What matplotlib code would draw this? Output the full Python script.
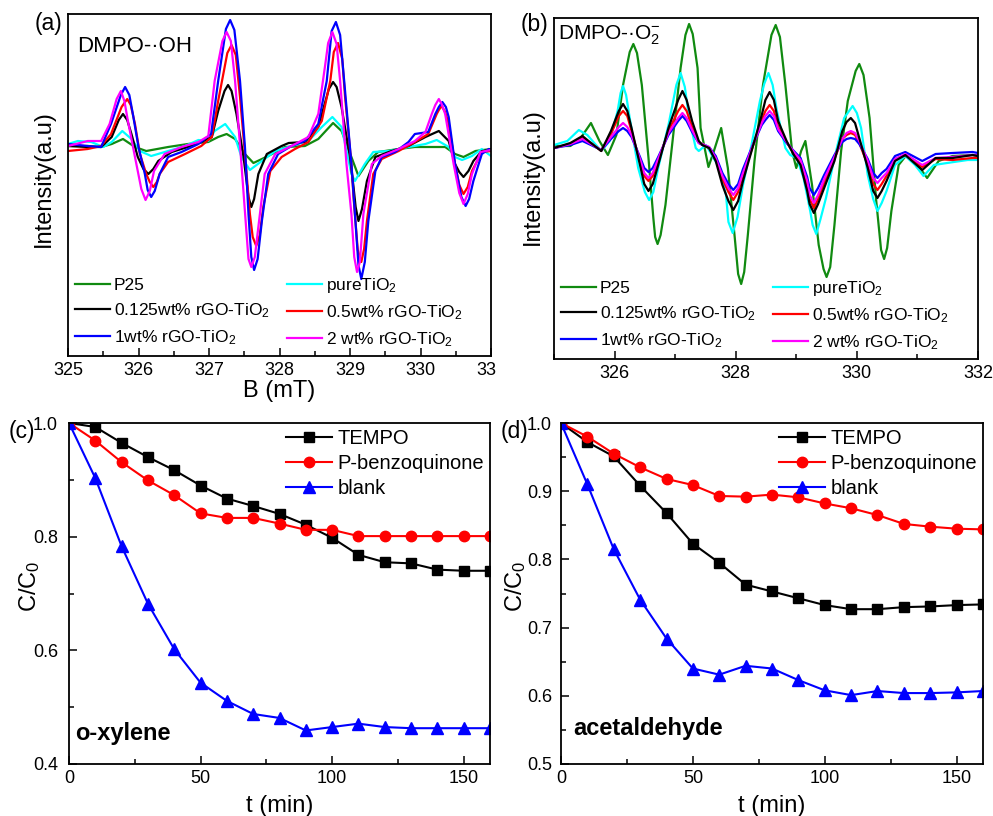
import matplotlib
matplotlib.use('Agg')
import matplotlib.pyplot as plt
from matplotlib.ticker import MultipleLocator, FormatStrFormatter
from matplotlib.transforms import Bbox, TransformedBbox

plt.rcParams['font.family'] = ['Liberation Sans', 'DejaVu Sans']
plt.rcParams['mathtext.fontset'] = 'custom'
plt.rcParams['mathtext.rm'] = 'Liberation Sans'
plt.rcParams['mathtext.it'] = 'Liberation Sans:italic'
plt.rcParams['mathtext.bf'] = 'Liberation Sans:bold'

# ---------------- (a) DMPO-.OH spectra (B in mT, intensity in a.u.) ----------------
a_p25_x = [325.00, 325.28, 325.47, 325.62, 325.78, 325.95, 326.11, 326.42, 326.70, 326.99,
           327.13, 327.25, 327.37, 327.51, 327.63, 327.84, 328.08, 328.36, 328.55, 328.76,
           328.88, 329.02, 329.12, 329.26, 329.40, 329.69, 329.92, 330.21, 330.35, 330.49,
           330.61, 330.78, 331.00]
a_p25_y = [1, 1, 0, 3, 8, 0, -4, 0, 3, 5,
           10, 13, 8, -7, -16, -9, 0, 1, 8, 24,
           16, -10, -29, -14, -5, -2, 0, 0, 0, -7,
           -10, -4, -2]

a_pure_x = [325.00, 325.14, 325.33, 325.50, 325.62, 325.77, 325.90, 326.02, 326.18, 326.42,
            326.66, 326.85, 326.99, 327.08, 327.23, 327.37, 327.46, 327.58, 327.75, 327.94,
            328.17, 328.41, 328.60, 328.75, 328.88, 329.02, 329.07, 329.21, 329.33, 329.55,
            329.83, 330.07, 330.23, 330.40, 330.49, 330.59, 330.73, 330.87, 331.00]
a_pure_y = [3, 6, 5, 0, 5, 16, 8, -4, -9, -4,
            1, 7, 6, 16, 23, 10, -10, -23, -14, -4,
            1, 6, 20, 30, 20, -27, -34, -17, -5, -4,
            0, 3, 7, 0, -10, -13, -9, -2, -9]

a_w0125_x = [325.00, 325.28, 325.47, 325.62, 325.72, 325.78, 325.84, 325.90, 325.99, 326.07,
             326.14, 326.21, 326.28, 326.47, 326.70, 326.89, 327.04, 327.13, 327.22, 327.27,
             327.32, 327.39, 327.49, 327.56, 327.60, 327.64, 327.70, 327.82, 328.03, 328.13,
             328.36, 328.55, 328.70, 328.76, 328.81, 328.88, 329.00, 329.05, 329.08, 329.12,
             329.17, 329.24, 329.36, 329.59, 329.83, 330.07, 330.26, 330.40, 330.49, 330.55,
             330.61, 330.68, 330.75, 330.87, 331.00]
a_w0125_y = [1, 0, 0, 10, 27, 33, 27, 13, -10, -22,
             -27, -22, -14, -5, 0, 5, 10, 36, 56, 62,
             56, 33, -10, -50, -60, -52, -27, -7, 1, 4,
             5, 20, 58, 65, 60, 40, -10, -40, -60, -74,
             -62, -34, -10, -4, 1, 10, 16, 6, -17, -25,
             -30, -24, -14, -4, -3]

a_w05_x = [325.00, 325.28, 325.47, 325.61, 325.76, 325.84, 325.89, 325.95, 326.02, 326.11,
           326.16, 326.21, 326.26, 326.30, 326.42, 326.66, 326.89, 327.04, 327.13, 327.26,
           327.32, 327.38, 327.44, 327.51, 327.58, 327.62, 327.67, 327.72, 327.77, 327.87,
           328.03, 328.22, 328.41, 328.60, 328.72, 328.77, 328.83, 328.89, 328.93, 329.02,
           329.05, 329.11, 329.16, 329.20, 329.24, 329.33, 329.45, 329.69, 329.92, 330.11,
           330.23, 330.26, 330.30, 330.35, 330.40, 330.49, 330.55, 330.61, 330.67, 330.73,
           330.87, 331.00]
a_w05_y = [-4, -2, 1, 13, 40, 48, 42, 23, -7, -27,
           -35, -40, -35, -27, -15, -7, 1, 10, 46, 94,
           102, 92, 50, -7, -67, -90, -99, -88, -60, -24,
           -10, -2, 5, 26, 66, 95, 104, 88, 50, -17,
           -50, -103, -115, -102, -74, -27, -12, -4, 5, 13,
           33, 37, 41, 35, 23, -17, -38, -47, -40, -24,
           -5, -4]

a_w1_x = [325.00, 325.28, 325.47, 325.61, 325.75, 325.81, 325.87, 325.92, 326.00, 326.09,
          326.13, 326.18, 326.23, 326.30, 326.42, 326.61, 326.85, 327.03, 327.13, 327.24,
          327.30, 327.36, 327.44, 327.51, 327.56, 327.60, 327.64, 327.69, 327.75, 327.84,
          327.98, 328.17, 328.36, 328.55, 328.67, 328.74, 328.80, 328.86, 328.93, 329.02,
          329.07, 329.12, 329.16, 329.21, 329.26, 329.36, 329.45, 329.64, 329.83, 329.92,
          330.11, 330.21, 330.26, 330.31, 330.36, 330.40, 330.49, 330.58, 330.64, 330.69,
          330.75, 330.87, 330.97, 331.00]
a_w1_y = [3, 1, 0, 23, 52, 60, 52, 33, 0, -27,
          -43, -50, -44, -27, -10, -5, 3, 13, 66, 118,
          127, 117, 66, 0, -67, -110, -123, -112, -74, -27,
          -7, 1, 6, 23, 66, 116, 125, 112, 56, -17,
          -67, -118, -132, -115, -74, -24, -10, -5, 5, 13,
          15, 33, 40, 45, 40, 30, -17, -50, -59, -52,
          -34, -7, -2, -3]

a_w2_x = [325.00, 325.28, 325.47, 325.59, 325.69, 325.75, 325.80, 325.85, 325.95, 326.04,
          326.10, 326.16, 326.22, 326.37, 326.61, 326.85, 326.99, 327.08, 327.19, 327.25,
          327.31, 327.37, 327.46, 327.53, 327.56, 327.60, 327.65, 327.70, 327.79, 327.94,
          328.17, 328.41, 328.55, 328.65, 328.69, 328.75, 328.81, 328.86, 328.95, 329.02,
          329.06, 329.10, 329.14, 329.19, 329.31, 329.45, 329.69, 329.92, 330.07, 330.16,
          330.21, 330.26, 330.30, 330.35, 330.47, 330.55, 330.61, 330.67, 330.73, 330.85,
          331.00]
a_w2_y = [1, 6, 6, 23, 48, 56, 46, 26, -10, -42,
          -53, -44, -24, -7, 0, 5, 11, 66, 106, 115,
          106, 66, -17, -84, -112, -120, -110, -80, -27, -7,
          1, 10, 33, 83, 104, 115, 103, 66, -17, -67,
          -110, -125, -115, -67, -17, -9, -2, 6, 15, 33,
          42, 48, 43, 33, -17, -46, -57, -47, -27, -5,
          -3]

# ---------------- (b) DMPO-.O2- spectra ----------------
b_p25_x = [325.00, 325.27, 325.44, 325.61, 325.75, 325.89, 326.03, 326.14, 326.25, 326.31,
           326.37, 326.45, 326.56, 326.64, 326.67, 326.71, 326.76, 326.84, 326.95, 327.09,
           327.17, 327.23, 327.29, 327.37, 327.42, 327.55, 327.64, 327.76, 327.87, 327.98,
           328.04, 328.09, 328.14, 328.20, 328.31, 328.45, 328.59, 328.66, 328.73, 328.82,
           328.93, 329.00, 329.08, 329.15, 329.26, 329.37, 329.45, 329.50, 329.56, 329.63,
           329.74, 329.85, 329.98, 330.04, 330.11, 330.21, 330.32, 330.40, 330.45, 330.50,
           330.57, 330.69, 330.82, 330.96, 331.16, 331.35, 331.58, 331.91, 332.00]
b_p25_y = [1, 1, 9, 24, 6, -8, 12, 62, 95, 103,
           94, 62, -11, -71, -90, -97, -88, -58, 2, 79,
           112, 123, 113, 79, 19, -20, -4, 19, -21, -88,
           -127, -137, -125, -88, -14, 62, 112, 122, 110, 62,
           -4, -21, -4, 6, -38, -98, -122, -130, -120, -78,
           -4, 46, 76, 83, 72, 29, -54, -103, -112, -101,
           -64, -18, -8, -14, -31, -14, -9, -8, -9]

b_pure_x = [325.00, 325.22, 325.41, 325.55, 325.78, 325.92, 326.05, 326.10, 326.14, 326.19,
            326.25, 326.39, 326.50, 326.57, 326.64, 326.72, 326.89, 327.02, 327.09, 327.16,
            327.23, 327.34, 327.39, 327.51, 327.73, 327.84, 327.88, 327.95, 328.03, 328.12,
            328.26, 328.40, 328.47, 328.54, 328.61, 328.68, 328.82, 328.90, 329.01, 329.12,
            329.23, 329.27, 329.33, 329.40, 329.49, 329.63, 329.79, 329.86, 329.93, 330.00,
            330.07, 330.18, 330.27, 330.34, 330.41, 330.49, 330.63, 330.80, 330.96, 331.10,
            331.27, 331.49, 331.83, 332.00]
b_pure_y = [2, 6, 17, 12, -4, 6, 36, 54, 61, 52,
            29, -21, -45, -53, -45, -21, 22, 62, 74, 60,
            29, -1, -4, 2, -21, -48, -75, -86, -70, -38,
            2, 46, 63, 74, 62, 36, -1, -8, -11, -31,
            -64, -78, -87, -72, -51, -11, 29, 35, 41, 34,
            19, -28, -52, -64, -56, -44, -18, -9, -18, -29,
            -18, -16, -13, -13]

b_rgo_x = [325.00, 325.27, 325.47, 325.61, 325.78, 325.94, 326.07, 326.14, 326.21, 326.28,
           326.42, 326.49, 326.56, 326.63, 326.72, 326.89, 327.05, 327.12, 327.19, 327.28,
           327.39, 327.45, 327.56, 327.67, 327.78, 327.88, 327.96, 328.04, 328.12, 328.29,
           328.43, 328.49, 328.56, 328.63, 328.70, 328.84, 328.96, 329.07, 329.18, 329.22,
           329.29, 329.36, 329.46, 329.63, 329.76, 329.83, 329.90, 329.97, 330.04, 330.18,
           330.27, 330.34, 330.41, 330.49, 330.63, 330.80, 331.08, 331.30, 331.58, 331.91,
           332.00]
b_w0125_y = [-1, 4, 11, 4, -4, 16, 36, 43, 36, 19,
             -18, -37, -44, -37, -18, 19, 47, 56, 47, 26,
             6, 2, -1, -14, -38, -54, -63, -54, -34, 2,
             32, 47, 55, 47, 26, 6, -8, -18, -44, -57,
             -66, -57, -41, -14, 16, 25, 29, 24, 9, -21,
             -44, -51, -44, -34, -14, -8, -23, -11, -11, -8,
             -9]
b_w05_y = [-1, 3, 9, 4, -4, 13, 31, 36, 31, 16,
           -15, -29, -34, -29, -14, 16, 36, 42, 36, 20,
           5, 2, -1, -12, -32, -45, -53, -45, -28, 2,
           27, 36, 42, 36, 20, 5, -7, -16, -38, -52,
           -61, -52, -36, -12, 8, 12, 14, 12, 4, -18,
           -37, -43, -37, -29, -12, -8, -20, -12, -13, -11,
           -11]
b_w1_y = [-1, 2, 6, 2, -3, 8, 16, 19, 16, 10,
          -10, -21, -25, -21, -10, 12, 26, 31, 26, 15,
          4, 2, 0, -9, -26, -37, -43, -37, -22, 3,
          22, 27, 32, 27, 16, 4, -4, -11, -30, -41,
          -48, -41, -28, -8, 5, 8, 9, 8, 3, -12,
          -26, -31, -26, -22, -9, -5, -14, -7, -6, -5,
          -6]
b_w2_y = [-1, 3, 8, 3, -3, 10, 20, 24, 20, 12,
          -12, -26, -31, -26, -12, 14, 29, 34, 29, 17,
          4, 3, 0, -11, -29, -41, -48, -41, -26, 3,
          24, 31, 36, 31, 18, 5, -5, -13, -34, -48,
          -56, -48, -32, -10, 8, 14, 16, 14, 6, -14,
          -31, -36, -31, -26, -12, -7, -18, -11, -10, -8,
          -8]

# ---------------- (c) o-xylene, (d) acetaldehyde ----------------
t_min = [0, 10, 20, 30, 40, 50, 60, 70, 80, 90, 100, 110, 120, 130, 140, 150, 160]

c_tempo = [1.0, 0.993, 0.965, 0.940, 0.917, 0.890, 0.867, 0.854, 0.840, 0.821,
           0.798, 0.768, 0.755, 0.753, 0.742, 0.740, 0.740]
c_pbq = [1.0, 0.969, 0.931, 0.899, 0.873, 0.841, 0.833, 0.833, 0.823, 0.812,
         0.812, 0.801, 0.801, 0.801, 0.801, 0.801, 0.801]
c_blank = [1.0, 0.903, 0.783, 0.682, 0.602, 0.543, 0.511, 0.488, 0.481, 0.459,
           0.465, 0.471, 0.465, 0.463, 0.463, 0.463, 0.463]

d_tempo = [1.0, 0.972, 0.951, 0.908, 0.868, 0.823, 0.795, 0.763, 0.753, 0.743,
           0.733, 0.727, 0.727, 0.730, 0.731, 0.733, 0.734]
d_pbq = [1.0, 0.980, 0.955, 0.935, 0.918, 0.909, 0.893, 0.892, 0.895, 0.891,
         0.882, 0.875, 0.865, 0.852, 0.848, 0.845, 0.844]
d_blank = [1.0, 0.910, 0.815, 0.741, 0.684, 0.640, 0.631, 0.644, 0.640, 0.623,
           0.608, 0.601, 0.607, 0.604, 0.604, 0.605, 0.607]

epr_labels = ['P25', 'pureTiO$_2$', '0.125wt% rGO-TiO$_2$', '0.5wt% rGO-TiO$_2$',
              '1wt% rGO-TiO$_2$', '2 wt% rGO-TiO$_2$']
epr_colors = ['#108a10', '#00ffff', '#000000', '#ff0000', '#0000ff', '#ff00ff']
kin_labels = ['TEMPO', 'P-benzoquinone', 'blank']

W, H = 993, 816
fig = plt.figure(figsize=(W / 100, H / 100), dpi=100)


def px_axes(l, t, r, b):
    return fig.add_axes([l / W, 1 - b / H, (r - l) / W, (b - t) / H])


def style(ax, ypad=4):
    for s in ax.spines.values():
        s.set_linewidth(1.3)
    ax.tick_params(which='both', direction='in', top=False, right=False, width=1.1, labelsize=13)
    ax.tick_params(which='major', length=6)
    ax.tick_params(which='minor', length=3.5)
    ax.tick_params(axis='x', pad=4)
    ax.tick_params(axis='y', pad=ypad)


def epr_legend(ax, handles, labels):
    order = [0, 2, 4, 1, 3, 5]
    ax.legend([handles[i] for i in order], [labels[i] for i in order], ncol=2, loc='lower left',
              bbox_to_anchor=(0.0, 0.0), frameon=False, fontsize=12.5, handlelength=2.0,
              handletextpad=0.25, columnspacing=1.0, labelspacing=0.48, borderpad=0.2,
              borderaxespad=0.2)


# ---- (a)
axa = px_axes(68, 14, 491, 356)
series_a = [(a_p25_x, a_p25_y), (a_pure_x, a_pure_y), (a_w0125_x, a_w0125_y),
            (a_w05_x, a_w05_y), (a_w1_x, a_w1_y), (a_w2_x, a_w2_y)]
hs = []
for (xs, ys), c in zip(series_a, epr_colors):
    ln, = axa.plot(xs, ys, color=c, lw=1.6, solid_joinstyle='round')
    hs.append(ln)
axa.set_xlim(325, 331)
axa.set_ylim(-209, 133)
axa.set_xticks([325, 326, 327, 328, 329, 330, 331])
axa.set_xticklabels(['325', '326', '327', '328', '329', '330', '331'])
axa.xaxis.set_minor_locator(MultipleLocator(0.5))
axa.set_yticks([])
style(axa)
axa.set_xlabel('B (mT)', fontsize=17, labelpad=1)
axa.set_ylabel('Intensity(a.u)', fontsize=17)
axa.yaxis.set_label_coords(-0.03, 0.52)
axa.text(0.022, 0.888, 'DMPO-·OH', transform=axa.transAxes, fontsize=16, va='baseline')
epr_legend(axa, hs, epr_labels)

# ---- (b)
axb = px_axes(554, 18, 978, 359)
series_b = [(b_p25_x, b_p25_y, 0), (b_pure_x, b_pure_y, 1), (b_rgo_x, b_w05_y, 3),
            (b_rgo_x, b_w1_y, 4), (b_rgo_x, b_w2_y, 5), (b_rgo_x, b_w0125_y, 2)]
hb = [None] * 6
for xs, ys, k in series_b:
    ln, = axb.plot(xs, ys, color=epr_colors[k], lw=1.6, solid_joinstyle='round')
    hb[k] = ln
axb.set_xlim(325, 332)
axb.set_ylim(-212, 129)
axb.set_xticks([326, 328, 330, 332])
axb.xaxis.set_minor_locator(MultipleLocator(1))
axb.set_yticks([])
style(axb)
axb.set_ylabel('Intensity(a.u)', fontsize=17)
axb.yaxis.set_label_coords(-0.024, 0.535)
axb.text(0.01, 0.938, 'DMPO-·O$_2^{-}$', transform=axb.transAxes, fontsize=15, va='baseline')
epr_legend(axb, hb, epr_labels)


# ---- (c) and (d)
def kinetics(ax, tempo, pbq, blank, ylo, ymajor, yminor, name, name_xy, ypad, ylab_x):
    ax.plot(t_min, tempo, color='black', marker='s', ms=6.5, lw=1.5, label=kin_labels[0])
    ax.plot(t_min, pbq, color='red', marker='o', ms=7.5, lw=1.5, label=kin_labels[1])
    ax.plot(t_min, blank, color='blue', marker='^', ms=8, lw=1.5, label=kin_labels[2])
    ax.set_xlim(0, 160)
    ax.set_ylim(ylo, 1.0)
    ax.xaxis.set_major_locator(MultipleLocator(50))
    ax.xaxis.set_minor_locator(MultipleLocator(25))
    ax.yaxis.set_major_locator(MultipleLocator(ymajor))
    ax.yaxis.set_minor_locator(MultipleLocator(yminor))
    ax.yaxis.set_major_formatter(FormatStrFormatter('%.1f'))
    style(ax, ypad)
    ax.set_xlabel('t (min)', fontsize=17, labelpad=6)
    ax.set_ylabel('C/C$_0$', fontsize=17)
    ax.yaxis.set_label_coords(ylab_x, 0.52)
    ax.legend(loc='upper right', frameon=False, fontsize=14.5, handlelength=2.3,
              handletextpad=0.25, labelspacing=0.3, borderpad=0.1, borderaxespad=0.2)
    ax.text(name_xy[0], name_xy[1], name, transform=ax.transAxes, fontsize=17,
            fontweight='bold', va='baseline')


axc = px_axes(69, 423, 490, 764)
kinetics(axc, c_tempo, c_pbq, c_blank, 0.4, 0.2, 0.1, 'o-xylene', (0.014, 0.071), 8, -0.064)
axd = px_axes(561, 423, 983, 764)
kinetics(axd, d_tempo, d_pbq, d_blank, 0.5, 0.1, 0.05, 'acetaldehyde', (0.028, 0.085), 6.5, -0.078)

# panel letters
for lab, x, y in [('(a)', 35, 30), ('(b)', 521, 31), ('(c)', 9, 438), ('(d)', 501, 438)]:
    fig.text(x / W, 1 - y / H, lab, fontsize=16.5, va='baseline')

# the last B tick label of (a) is cut by panel (b) in the original
clip = TransformedBbox(Bbox([[0, 0], [497 / W, 1]]), fig.transFigure)
last = axa.get_xticklabels()[-1]
last.set_clip_on(True)
last.set_clip_box(clip)

fig.savefig('out.png', dpi=100)
print('Saved: out.png')
